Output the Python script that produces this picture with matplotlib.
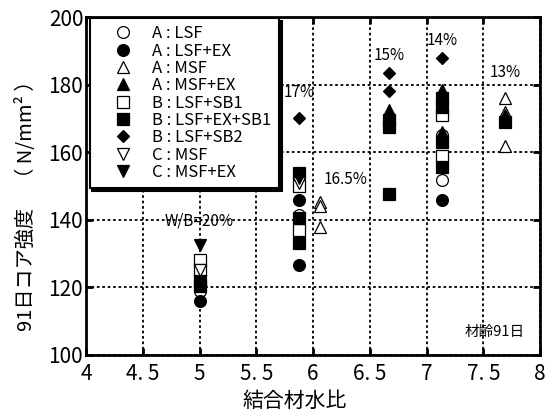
import matplotlib
matplotlib.use("Agg")
import matplotlib.pyplot as plt

plt.rcParams['font.family'] = ['Noto Sans CJK JP', 'DejaVu Sans']

# ---- data ----
labels = ["A : LSF", "A : LSF+EX", "A : MSF", "A : MSF+EX", "B : LSF+SB1",
          "B : LSF+EX+SB1", "B : LSF+SB2", "C : MSF", "C : MSF+EX"]
a_lsf_x = [5.0, 5.88, 7.14, 7.14]
a_lsf_y = [119, 141.5, 165, 151.8]
a_lsfex_x = [5.0, 5.88, 5.88, 7.14]
a_lsfex_y = [116, 146, 126.6, 146]
a_msf_x = [6.06, 6.06, 6.06, 7.69, 7.69, 7.69]
a_msf_y = [145.2, 144.2, 138, 176, 172, 162]
a_msfex_x = [6.67, 7.14, 7.14, 7.69]
a_msfex_y = [172.5, 178.5, 166, 171]
b_lsfsb1_x = [5.0, 5.0, 5.88, 5.88, 7.14, 7.14]
b_lsfsb1_y = [128, 125, 150, 137, 171, 159]
b_lsfexsb1_x = [5.0, 5.0, 5.88, 5.88, 5.88, 6.67, 6.67, 6.67, 7.14, 7.14, 7.14, 7.14, 7.69]
b_lsfexsb1_y = [122, 120.5, 154, 140.5, 133, 169.5, 167.5, 147.5, 176, 173.5, 163, 155.5, 169]
b_lsfsb2_x = [5.88, 6.67, 6.67, 7.14]
b_lsfsb2_y = [170, 183.5, 178, 188]
c_msf_x = [5.0, 5.88]
c_msf_y = [125, 151]
c_msfex_x = [5.0, 5.88]
c_msfex_y = [132.5, 152.5]

ann_text = ["W/B=20%", "17%", "16.5%", "15%", "14%", "13%"]
ann_x = [5.0, 5.88, 6.06, 6.67, 7.14, 7.69]
ann_y = [139.5, 177.8, 151.8, 188.8, 193, 183.7]

xticks = [4, 4.5, 5, 5.5, 6, 6.5, 7, 7.5, 8]
xticklabels = ["4", "4. 5", "5", "5. 5", "6", "6. 5", "7", "7. 5", "8"]
yticks = [100, 120, 140, 160, 180, 200]

series = [
    (a_lsf_x, a_lsf_y, 'o', 'white'),
    (a_lsfex_x, a_lsfex_y, 'o', 'black'),
    (a_msf_x, a_msf_y, '^', 'white'),
    (a_msfex_x, a_msfex_y, '^', 'black'),
    (b_lsfsb1_x, b_lsfsb1_y, 's', 'white'),
    (b_lsfexsb1_x, b_lsfexsb1_y, 's', 'black'),
    (b_lsfsb2_x, b_lsfsb2_y, 'D', 'black'),
    (c_msf_x, c_msf_y, 'v', 'white'),
    (c_msfex_x, c_msfex_y, 'v', 'black'),
]

fig = plt.figure(figsize=(5.55, 4.19), dpi=100)
ax = fig.add_axes([0.155, 0.153, 0.818, 0.806])

for (xs, ys, m, fc), lab in zip(series, labels):
    ms = 6.5 if m == 'D' else 8.5
    ax.plot(xs, ys, linestyle='none', marker=m, markersize=ms,
            markerfacecolor=fc, markeredgecolor='black', markeredgewidth=0.9,
            label=lab, zorder=3)

ax.set_xlim(4, 8)
ax.set_ylim(100, 200)
ax.set_xticks(xticks)
ax.set_xticklabels(xticklabels)
ax.set_yticks(yticks)
ax.tick_params(direction='in', length=5, width=2, labelsize=15,
               top=True, right=True)
ax.tick_params(axis='x', pad=6)
ax.tick_params(axis='y', pad=2)
for s in ax.spines.values():
    s.set_linewidth(2)
ax.grid(True, color='black', linestyle=(0, (1.5, 1.5)), linewidth=1.3)
ax.set_axisbelow(True)

for t, x, y in zip(ann_text, ann_x, ann_y):
    ha = 'left' if t == "16.5%" else 'center'
    xx = x + 0.03 if t == "16.5%" else x
    ax.text(xx, y, t, ha=ha, va='center', fontsize=11, zorder=4)

ax.text(7.6, 106.8, "材齢91日", ha='center', va='center', fontsize=10.5)

ax.set_xlabel("結合材水比", fontsize=15)
ax.xaxis.set_label_coords(0.46, -0.105)
ax.set_ylabel("91日コア強度　（ N/mm² ）", fontsize=14.5)
ax.yaxis.set_label_coords(-0.107, 0.456)

leg = ax.legend(loc='upper left', bbox_to_anchor=(0.008, 0.997), frameon=True,
                fancybox=False, shadow={'color': 'black', 'alpha': 1},
                handletextpad=0.15, labelspacing=0.02,
                borderpad=0.42, handlelength=3.2, borderaxespad=0,
                prop={'size': 12})
leg.get_frame().set_edgecolor('black')
leg.get_frame().set_linewidth(1.5)
leg.set_zorder(5)

fig.savefig("out.png", dpi=100)
